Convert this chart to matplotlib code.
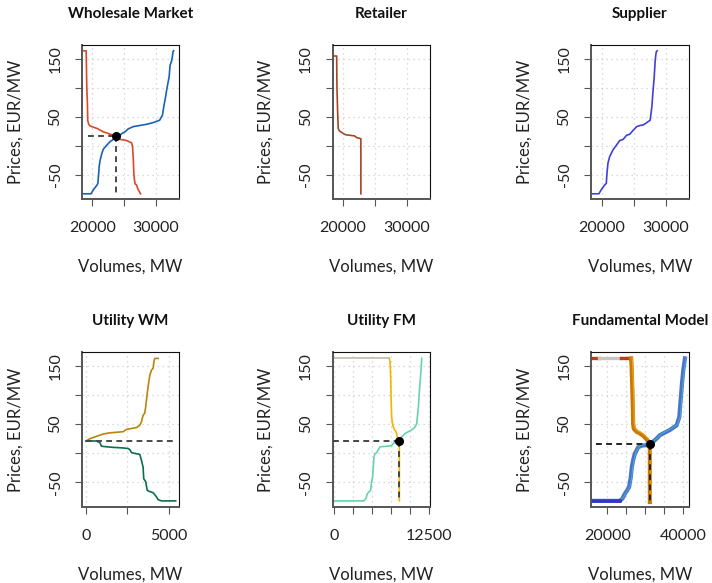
import numpy as np
import matplotlib.pyplot as plt
import matplotlib.transforms as mtransforms

plt.rcParams['font.family'] = ['Lato', 'DejaVu Sans']

# shared price axis
price_ticks = [150, 100, 50, 0, -50]
price_labels = ['150', '', '50', '', '-50']
price_lim = (-92, 174)

# Wholesale Market
wm_supply_x = [18450, 19750, 20150, 20700, 20850, 20950, 21050, 21200, 21450, 21700, 22250, 22750, 23300,
               23800, 24300, 24600, 25100, 25600, 26400, 27450, 28500, 29550, 30550, 31000, 31200, 31450,
               31750, 32050, 32200, 32400, 32550, 32650, 32750]
wm_supply_p = [-83, -83, -76, -68, -65, -51, -36, -25, -14, -6, 1, 7, 11, 14, 18, 21, 24, 29, 33, 35, 37, 40,
               44, 53, 67, 82, 102, 119, 139, 145, 153, 162, 164]
wm_demand_x = [18600, 19000, 19050, 19100, 19200, 19250, 19400, 19650, 20150, 20700, 21200, 21700, 22250,
               22750, 23550, 24300, 24850, 25350, 26150, 26300, 26400, 26500, 26600, 26700, 26950, 27100,
               27350, 27550]
wm_demand_p = [164, 164, 136, 102, 73, 44, 37, 34, 32, 30, 27, 24, 22, 20, 17, 11, 10, 9, 5, -2, -19, -48,
               -59, -66, -68, -74, -79, -83]
wm_eq = (23700, 16)
wm_dash_from = 19300
wm_dash_floor = -85

# Retailer
ret_x = [18350, 19000, 19050, 19150, 19250, 19400, 20050, 20400, 21100, 21800, 22150, 22500, 22800, 22800]
ret_p = [155, 155, 100, 60, 30, 26, 21, 19, 18, 17, 14, 13, 12, -83]

# Supplier
sup_x = [18350, 19580, 19950, 20470, 20740, 20840, 21000, 21260, 21790, 22320, 22840, 23370, 23900, 24420,
         24950, 25480, 26000, 26530, 27060, 27580, 27850, 28000, 28220, 28370, 28530, 28690]
sup_p = [-83, -83, -76, -68, -65, -48, -30, -19, -7, 1, 9, 11, 18, 20, 27, 33, 35, 36, 40, 44, 67, 90, 119,
         148, 162, 164]

# Utility WM
uwm_supply_x = [0, 240, 640, 1040, 1450, 1850, 2250, 2450, 2650, 3050, 3250, 3350, 3450, 3550, 3610, 3700,
                3780, 3860, 3960, 4060, 4100, 4160, 4260, 4360]
uwm_supply_p = [21, 25, 29, 33, 35, 36, 37, 41, 42, 44, 48, 54, 65, 69, 80, 103, 120, 134, 143, 146, 157,
                163, 163, 163]
uwm_demand_x = [0, 640, 840, 940, 1250, 1650, 2250, 2550, 2650, 2750, 3050, 3250, 3350, 3450, 3490, 3610,
                3700, 3860, 4060, 4260, 4360, 4560, 4860, 5420]
uwm_demand_p = [21, 21, 18, 12, 11, 10, 9, 8, 6, 1, -1, -2, -12, -24, -44, -49, -64, -66, -68, -75, -80,
                -82, -82, -82]
uwm_price = 21
uwm_dash_x = (0, 5450)

# Utility FM
ufm_cap_x = [-200, 7240]
ufm_cap_p = [163, 163]
ufm_demand_x = [7240, 7330, 7410, 7460, 7540, 7680, 7850, 8110, 8290, 8420, 8550, 8550]
ufm_demand_p = [163, 157, 131, 97, 62, 48, 42, 37, 28, 22, 17, -82]
ufm_supply_x = [-200, 3900, 4170, 4340, 4600, 4780, 4910, 5040, 5130, 5220, 5350, 5570, 6010, 6890, 7540,
                7760, 7980, 8200, 8510, 8860, 9300, 9740, 10180, 10610, 10830, 11050, 11180, 11360, 11490]
ufm_supply_p = [-82, -82, -78, -70, -66, -64, -49, -41, -24, -6, -1, 1, 11, 12, 13, 17, 18, 20, 21, 28, 34,
                37, 40, 45, 51, 80, 108, 137, 163]
ufm_eq = (8510, 21)
ufm_dash_from = -150
ufm_dash_floor = -82

# Fundamental Model
fm_cap_x = [15700, 17900, 23600, 26200]
fm_cap_p = 163
fm_demand_x = [26200, 26350, 26520, 26700, 26780, 26960, 27660, 28550, 29430, 30310, 30920, 31190, 31190]
fm_demand_p = [163, 154, 120, 80, 51, 42, 37, 34, 30, 24, 20, 16, -84]
fm_supply_x = [15700, 23260, 23970, 24580, 25200, 25730, 26170, 26430, 26780, 27220, 28100, 28990, 30310,
               31190, 32070, 32950, 33830, 34710, 36480, 38240, 38940, 39290, 39650, 40000, 40440]
fm_supply_p = [-82, -82, -78, -70, -64, -58, -41, -24, -12, -1, 10, 13, 14, 16, 20, 25, 31, 34, 40, 48, 62,
               91, 120, 143, 163]
fm_eq = (31190, 16)
fm_dash_from = 16900
fm_dash_floor = -84

vol_ticks_top = [20000, 25000, 30000]
vol_labels_top = ['20000', '', '30000']

DASH = (0, (3.0, 2.2))


def setup(ax, title, xlim, xticks, xlabels):
    ax.set_xlim(*xlim)
    ax.set_ylim(*price_lim)
    ax.set_xticks(xticks)
    ax.set_xticklabels(xlabels)
    ax.set_yticks(price_ticks)
    ax.set_yticklabels(price_labels, rotation=90, va='center')
    ax.grid(True, color='#cfcfcf', linestyle=(0, (1, 3)), linewidth=0.9)
    ax.set_axisbelow(True)
    ax.tick_params(direction='out', length=5, width=0.8, color='#555555', labelsize=11.5,
                   labelcolor='#222222')
    ax.tick_params(axis='x', pad=11)
    ax.tick_params(axis='y', pad=9)
    for side in ['left', 'bottom']:
        ax.spines[side].set_color('#555555')
        ax.spines[side].set_linewidth(1.4)
    for side in ['top', 'right']:
        ax.spines[side].set_color('#111111')
        ax.spines[side].set_linewidth(0.8)
    ax.annotate(title, xy=(0.5, 1), xycoords='axes fraction', xytext=(0, 22.5),
                textcoords='offset points', ha='center', va='center', fontsize=11,
                fontweight='bold', color='#111111', annotation_clip=False)
    ax.annotate('Volumes, MW', xy=(0.5, 0), xycoords='axes fraction', xytext=(0, -49),
                textcoords='offset points', ha='center', va='center', fontsize=12,
                color='#222222', annotation_clip=False)
    ax.annotate('Prices, EUR/MW', xy=(0, 0.5), xycoords='axes fraction', xytext=(-48, 0),
                textcoords='offset points', ha='center', va='center', fontsize=12,
                rotation=90, color='#222222', annotation_clip=False)


def eq_lines(ax, eq, start, floor, color='#4a4a4a'):
    ax.plot([start, eq[0]], [eq[1], eq[1]], color=color, lw=1.4, linestyle=DASH, zorder=4)
    ax.plot([eq[0], eq[0]], [eq[1], floor], color=color, lw=1.4, linestyle=DASH, zorder=4)
    ax.plot(eq[0], eq[1], 'o', color='black', markersize=5.5, zorder=5)


fig = plt.figure(figsize=(7.12, 5.83), dpi=100)
W, H = 712, 583


def box(left, top, right, bottom):
    return [left / W, (H - bottom) / H, (right - left) / W, (bottom - top) / H]


ax1 = fig.add_axes(box(82, 45, 179, 199))
ax2 = fig.add_axes(box(332.5, 45, 429.7, 199))
ax3 = fig.add_axes(box(591, 45, 688.7, 199))
ax4 = fig.add_axes(box(82, 352, 179, 506.7))
ax5 = fig.add_axes(box(332.5, 352, 429.7, 506.7))
ax6 = fig.add_axes(box(591, 352, 688.7, 506.7))

# Wholesale Market
setup(ax1, 'Wholesale Market', (18350, 33600), vol_ticks_top, vol_labels_top)
ax1.plot(wm_supply_x, wm_supply_p, color='#1a62b4', lw=1.2)
ax1.plot(wm_demand_x, wm_demand_p, color='#d64a2a', lw=1.2)
eq_lines(ax1, wm_eq, wm_dash_from, wm_dash_floor)

# Retailer
setup(ax2, 'Retailer', (18350, 33600), vol_ticks_top, vol_labels_top)
ax2.plot(ret_x, ret_p, color='#a84422', lw=1.2)

# Supplier
setup(ax3, 'Supplier', (18350, 33600), vol_ticks_top, vol_labels_top)
ax3.plot(sup_x, sup_p, color='#4040d8', lw=1.2)

# Utility WM
setup(ax4, 'Utility WM', (-241, 5620), [0, 2500, 5000], ['0', '', '5000'])
ax4.plot(uwm_supply_x, uwm_supply_p, color='#b8860b', lw=1.2)
ax4.plot(uwm_demand_x, uwm_demand_p, color='#0b6e50', lw=1.2)
ax4.plot(uwm_dash_x, [uwm_price, uwm_price], color='#4a4a4a', lw=1.4, linestyle=DASH)

# Utility FM
setup(ax5, 'Utility FM', (-220, 12530), [0, 2500, 5000, 7500, 10000, 12500],
      ['0', '', '', '', '', '12500'])
ax5.plot(ufm_cap_x, ufm_cap_p, color='#c8c4b6', lw=1.4)
ax5.plot(ufm_demand_x, ufm_demand_p, color='#f2b600', lw=1.2)
ax5.plot(ufm_supply_x, ufm_supply_p, color='#66d3aa', lw=1.2)
eq_lines(ax5, ufm_eq, ufm_dash_from, ufm_dash_floor, color='#444444')

# Fundamental Model
setup(ax6, 'Fundamental Model', (15683, 41420), [20000, 25000, 30000, 35000, 40000],
      ['20000', '', '', '', '40000'])
cap_colors = ['#b5401e', '#c9c5bc', '#b5401e']
for i in range(len(fm_cap_x) - 1):
    ax6.plot(fm_cap_x[i:i + 2], [fm_cap_p, fm_cap_p], color=cap_colors[i], lw=2.4)
shift = mtransforms.offset_copy(ax6.transData, fig=fig, x=0.8, y=0.8, units='points')
ax6.plot(fm_supply_x, fm_supply_p, color='#4a70d0', lw=3.0)
ax6.plot(fm_supply_x, fm_supply_p, color='#4cbcae', lw=0.8, transform=shift, alpha=0.8)
ax6.plot(fm_supply_x[:2], fm_supply_p[:2], color='#3535c8', lw=2.6)
ax6.plot(fm_demand_x, fm_demand_p, color='#c97800', lw=3.0)
ax6.plot(fm_demand_x, fm_demand_p, color='#eaa520', lw=0.9, transform=shift, alpha=0.9)
eq_lines(ax6, fm_eq, fm_dash_from, fm_dash_floor, color='#222222')

fig.savefig('out.png', dpi=100)
